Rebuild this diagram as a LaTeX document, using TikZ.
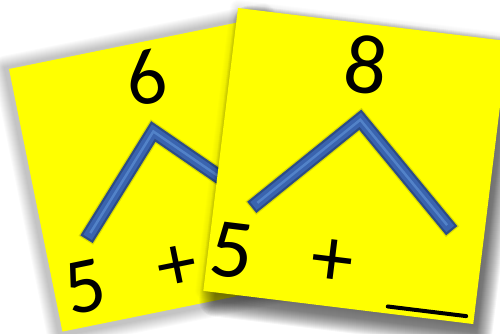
\documentclass[tikz,border=0pt]{standalone}
\usepackage{fontspec}
\setmainfont{Carlito}
\definecolor{cardyellow}{HTML}{FFFF00}
\definecolor{chevdark}{HTML}{2C4C86}
\definecolor{chevmid}{HTML}{3A64AE}
\definecolor{chevlight}{HTML}{5282C8}
\definecolor{chevshade}{HTML}{8C8C00}
\tikzset{
  cardbox/.style={fill=cardyellow, draw=none},
  shadowlayer/.style={fill=black, draw=none},
  chevshadow/.style={draw=chevshade, line width=0.34cm, line join=miter, line cap=rect, opacity=0.3},
  chevouter/.style={draw=chevdark, line width=0.29cm, line join=miter, line cap=rect},
  chevinner/.style={draw=chevmid, line width=0.2cm, line join=miter, line cap=rect},
  chevcenter/.style={draw=chevlight, line width=0.05cm, line join=miter, line cap=butt},
  bigdigit/.style={font=\fontsize{45}{50}\selectfont, inner sep=0pt, text=black},
  bigdigitR/.style={font=\fontsize{48}{54}\selectfont, inner sep=0pt, text=black},
  blankline/.style={draw=black, line width=0.08cm, line cap=round}
}
\begin{document}
\begin{tikzpicture}[x=0.02cm, y=-0.02cm]
\useasboundingbox (0,0) rectangle (500,334);
\fill[white] (0,0) rectangle (500,334);

% ---------- left card ----------
\begin{scope}[shift={(9,69)}, rotate=11.5, transform shape]
  \foreach \i in {1,...,12} {
    \fill[shadowlayer, opacity=0.02, rounded corners=\i*0.02cm]
      (-\i-4,-\i-2) rectangle (262+\i-2,268+\i+4);
  }
  \fill[cardbox] (0,0) rectangle (262,268);
  \coordinate (la) at (47,177);
  \coordinate (lb) at (129,90);
  \coordinate (lc) at (213,177);
  \draw[chevshadow, shift={(3,5)}] (la) -- (lb) -- (lc);
  \draw[chevouter] (la) -- (lb) -- (lc);
  \draw[chevinner] (la) -- (lb) -- (lc);
  \draw[chevcenter] (la) -- (lb) -- (lc);
  \node[bigdigit] (six) at (132,36) {6};
  \node[bigdigit] (lfive) at (31,229) {5};
  \node[bigdigit] (lplus) at (125,229) {+};
\end{scope}

% ---------- right card ----------
\begin{scope}[shift={(238,8)}, rotate=-7, transform shape]
  \foreach \i in {1,...,16} {
    \fill[shadowlayer, opacity=0.04, rounded corners=\i*0.02cm]
      (-\i+13,-\i+12) rectangle (272+\i+4,285+\i+8);
  }
  \foreach \i in {1,...,8} {
    \fill[shadowlayer, opacity=0.012, rounded corners=\i*0.02cm]
      (-\i,-\i) rectangle (272+\i,285+\i);
  }
  \fill[cardbox] (0,0) rectangle (272,285);
  \coordinate (ra) at (43,191);
  \coordinate (rb) at (135,96);
  \coordinate (rc) at (234,190);
  \draw[chevshadow, shift={(3,5)}] (ra) -- (rb) -- (rc);
  \draw[chevouter] (ra) -- (rb) -- (rc);
  \draw[chevinner] (ra) -- (rb) -- (rc);
  \draw[chevcenter] (ra) -- (rb) -- (rc);
  \node[bigdigitR] (eight) at (134,41) {8};
  \node[bigdigitR] (rfive) at (24,241) {5};
  \node[bigdigitR] (rplus) at (125,242) {+};
  \coordinate (bl1) at (185,278);
  \coordinate (bl2) at (264,278);
  \draw[blankline] (bl1) -- (bl2);
\end{scope}
\end{tikzpicture}
\end{document}
